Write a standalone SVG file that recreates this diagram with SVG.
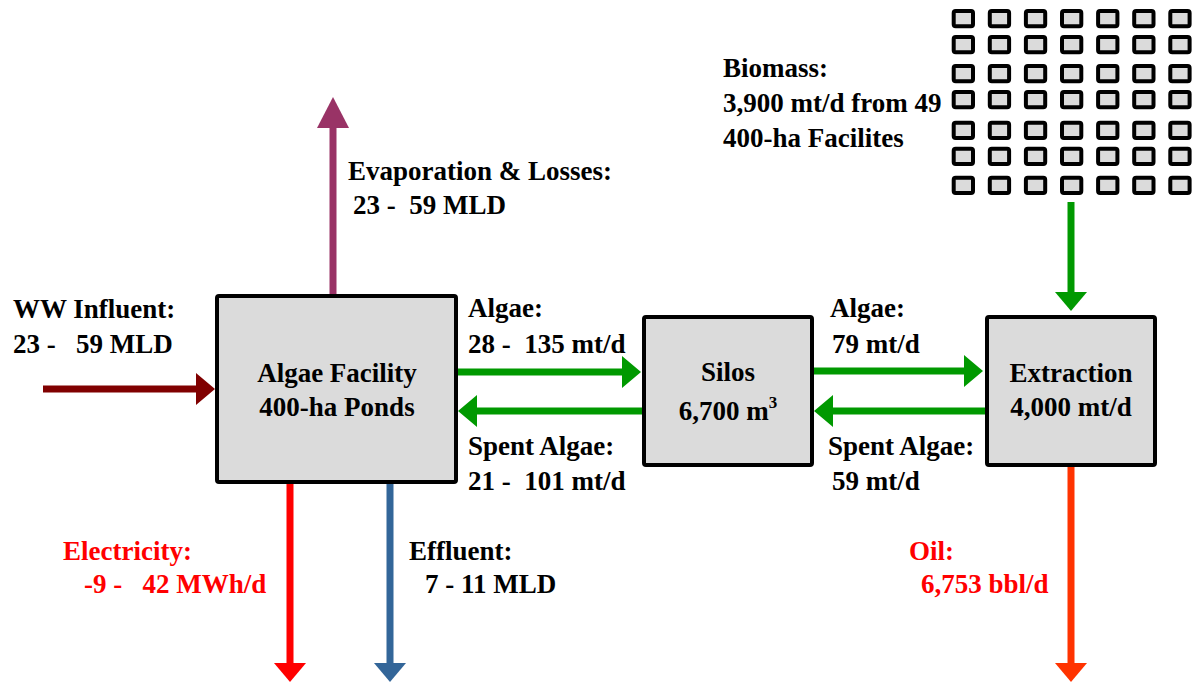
<svg xmlns="http://www.w3.org/2000/svg" width="1194" height="684" viewBox="0 0 1194 684" font-family="'Liberation Serif', 'Times New Roman', Tinos, 'DejaVu Serif', serif" font-weight="bold" font-size="27">
<defs>
<style>
.red{fill:#FF0000}
.box{fill:#DBDBDB;stroke:#000;stroke-width:4}
.cell{fill:#DBDBDB;stroke:#000;stroke-width:4}
.shaft{fill:none;stroke-width:7}
.c{text-anchor:middle}
</style>
<marker id="hG" markerUnits="userSpaceOnUse" markerWidth="20" markerHeight="34" refX="0" refY="17" orient="auto"><path d="M0,1 L19,17 L0,33 z" fill="#009900"/></marker>
<marker id="hDR" markerUnits="userSpaceOnUse" markerWidth="20" markerHeight="34" refX="0" refY="17" orient="auto"><path d="M0,1 L19,17 L0,33 z" fill="#800000"/></marker>
<marker id="hP" markerUnits="userSpaceOnUse" markerWidth="34" markerHeight="34" refX="0" refY="17" orient="auto"><path d="M0,1 L31,17 L0,33 z" fill="#993366"/></marker>
<marker id="hR" markerUnits="userSpaceOnUse" markerWidth="20" markerHeight="34" refX="0" refY="17" orient="auto"><path d="M0,1 L19,17 L0,33 z" fill="#FF0000"/></marker>
<marker id="hB" markerUnits="userSpaceOnUse" markerWidth="20" markerHeight="34" refX="0" refY="17" orient="auto"><path d="M0,1 L19,17 L0,33 z" fill="#336699"/></marker>
<marker id="hO" markerUnits="userSpaceOnUse" markerWidth="20" markerHeight="34" refX="0" refY="17" orient="auto"><path d="M0,1 L19,17 L0,33 z" fill="#FF3300"/></marker>
</defs>
<rect width="1194" height="684" fill="#FFFFFF"/>

<g id="connectors">
<path class="shaft" stroke="#800000" d="M43,389 H196" marker-end="url(#hDR)"/>
<path class="shaft" stroke="#993366" d="M333,294 V128" marker-end="url(#hP)"/>
<path class="shaft" stroke="#009900" d="M458,372 H622" marker-end="url(#hG)"/>
<path class="shaft" stroke="#009900" d="M642,411 H477" marker-end="url(#hG)"/>
<path class="shaft" stroke="#009900" d="M814,371 H964" marker-end="url(#hG)"/>
<path class="shaft" stroke="#009900" d="M985,411 H833" marker-end="url(#hG)"/>
<path class="shaft" stroke="#009900" d="M1071,202 V292" marker-end="url(#hG)"/>
<path class="shaft" stroke="#FF0000" d="M290,484 V663" marker-end="url(#hR)"/>
<path class="shaft" stroke="#336699" d="M390,484 V663" marker-end="url(#hB)"/>
<path class="shaft" stroke="#FF3300" d="M1071,467 V663" marker-end="url(#hO)"/>
</g>

<g id="algae-facility">
<rect class="box" x="217" y="296" width="239" height="186" rx="2"/>
<text class="c" x="337" y="382">Algae Facility</text>
<text class="c" x="337" y="416">400-ha Ponds</text>
</g>

<g id="silos">
<rect class="box" x="644" y="317" width="168" height="148" rx="2"/>
<text class="c" x="728" y="381">Silos</text>
<text class="c" x="728" y="420">6,700 m<tspan font-size="17" dy="-12">3</tspan></text>
</g>

<g id="extraction">
<rect class="box" x="987" y="317" width="168" height="148" rx="2"/>
<text class="c" x="1071" y="382">Extraction</text>
<text class="c" x="1071" y="416">4,000 mt/d</text>
</g>

<g id="biomass-grid">
<rect class="cell" x="953.7" y="11" width="19.3" height="15.3" rx="2"/><rect class="cell" x="989.8" y="11" width="19.3" height="15.3" rx="2"/><rect class="cell" x="1025.9" y="11" width="19.3" height="15.3" rx="2"/><rect class="cell" x="1062" y="11" width="19.3" height="15.3" rx="2"/><rect class="cell" x="1098.1" y="11" width="19.3" height="15.3" rx="2"/><rect class="cell" x="1134.2" y="11" width="19.3" height="15.3" rx="2"/><rect class="cell" x="1170.3" y="11" width="19.3" height="15.3" rx="2"/>
<rect class="cell" x="953.7" y="37" width="19.3" height="15.3" rx="2"/><rect class="cell" x="989.8" y="37" width="19.3" height="15.3" rx="2"/><rect class="cell" x="1025.9" y="37" width="19.3" height="15.3" rx="2"/><rect class="cell" x="1062" y="37" width="19.3" height="15.3" rx="2"/><rect class="cell" x="1098.1" y="37" width="19.3" height="15.3" rx="2"/><rect class="cell" x="1134.2" y="37" width="19.3" height="15.3" rx="2"/><rect class="cell" x="1170.3" y="37" width="19.3" height="15.3" rx="2"/>
<rect class="cell" x="953.7" y="66" width="19.3" height="15.3" rx="2"/><rect class="cell" x="989.8" y="66" width="19.3" height="15.3" rx="2"/><rect class="cell" x="1025.9" y="66" width="19.3" height="15.3" rx="2"/><rect class="cell" x="1062" y="66" width="19.3" height="15.3" rx="2"/><rect class="cell" x="1098.1" y="66" width="19.3" height="15.3" rx="2"/><rect class="cell" x="1134.2" y="66" width="19.3" height="15.3" rx="2"/><rect class="cell" x="1170.3" y="66" width="19.3" height="15.3" rx="2"/>
<rect class="cell" x="953.7" y="92" width="19.3" height="15.3" rx="2"/><rect class="cell" x="989.8" y="92" width="19.3" height="15.3" rx="2"/><rect class="cell" x="1025.9" y="92" width="19.3" height="15.3" rx="2"/><rect class="cell" x="1062" y="92" width="19.3" height="15.3" rx="2"/><rect class="cell" x="1098.1" y="92" width="19.3" height="15.3" rx="2"/><rect class="cell" x="1134.2" y="92" width="19.3" height="15.3" rx="2"/><rect class="cell" x="1170.3" y="92" width="19.3" height="15.3" rx="2"/>
<rect class="cell" x="953.7" y="122.7" width="19.3" height="15.3" rx="2"/><rect class="cell" x="989.8" y="122.7" width="19.3" height="15.3" rx="2"/><rect class="cell" x="1025.9" y="122.7" width="19.3" height="15.3" rx="2"/><rect class="cell" x="1062" y="122.7" width="19.3" height="15.3" rx="2"/><rect class="cell" x="1098.1" y="122.7" width="19.3" height="15.3" rx="2"/><rect class="cell" x="1134.2" y="122.7" width="19.3" height="15.3" rx="2"/><rect class="cell" x="1170.3" y="122.7" width="19.3" height="15.3" rx="2"/>
<rect class="cell" x="953.7" y="148.7" width="19.3" height="15.3" rx="2"/><rect class="cell" x="989.8" y="148.7" width="19.3" height="15.3" rx="2"/><rect class="cell" x="1025.9" y="148.7" width="19.3" height="15.3" rx="2"/><rect class="cell" x="1062" y="148.7" width="19.3" height="15.3" rx="2"/><rect class="cell" x="1098.1" y="148.7" width="19.3" height="15.3" rx="2"/><rect class="cell" x="1134.2" y="148.7" width="19.3" height="15.3" rx="2"/><rect class="cell" x="1170.3" y="148.7" width="19.3" height="15.3" rx="2"/>
<rect class="cell" x="953.7" y="177.7" width="19.3" height="15.3" rx="2"/><rect class="cell" x="989.8" y="177.7" width="19.3" height="15.3" rx="2"/><rect class="cell" x="1025.9" y="177.7" width="19.3" height="15.3" rx="2"/><rect class="cell" x="1062" y="177.7" width="19.3" height="15.3" rx="2"/><rect class="cell" x="1098.1" y="177.7" width="19.3" height="15.3" rx="2"/><rect class="cell" x="1134.2" y="177.7" width="19.3" height="15.3" rx="2"/><rect class="cell" x="1170.3" y="177.7" width="19.3" height="15.3" rx="2"/>
</g>

<g id="labels">
<text x="13" y="318">WW Influent:</text>
<text x="13" y="353" xml:space="preserve">23 -   59 MLD</text>
<text x="348" y="180">Evaporation &amp; Losses:</text>
<text x="353" y="214" xml:space="preserve">23 -  59 MLD</text>
<text x="468" y="317">Algae:</text>
<text x="468" y="353" xml:space="preserve">28 -  135 mt/d</text>
<text x="468" y="455">Spent Algae:</text>
<text x="468" y="490" xml:space="preserve">21 -  101 mt/d</text>
<text x="830" y="317">Algae:</text>
<text x="832" y="353">79 mt/d</text>
<text x="828" y="455">Spent Algae:</text>
<text x="832" y="490">59 mt/d</text>
<text x="723" y="77">Biomass:</text>
<text x="723" y="112">3,900 mt/d from 49</text>
<text x="723" y="147">400-ha Facilites</text>
<text class="red" x="63" y="560">Electricity:</text>
<text class="red" x="84" y="593" xml:space="preserve">-9 -   42 MWh/d</text>
<text x="409" y="560">Effluent:</text>
<text x="425" y="593">7 - 11 MLD</text>
<text class="red" x="909" y="560">Oil:</text>
<text class="red" x="921" y="593">6,753 bbl/d</text>
</g>
</svg>
